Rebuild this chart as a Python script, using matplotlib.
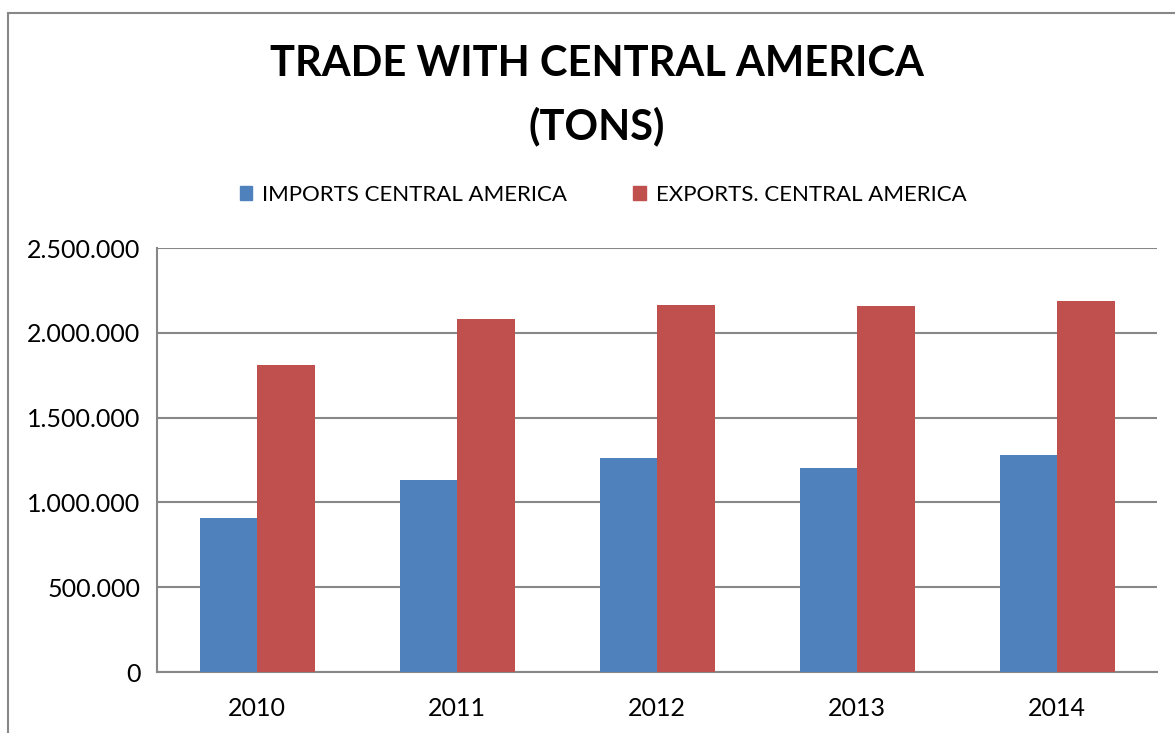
import matplotlib.pyplot as plt
import numpy as np
from matplotlib.patches import Patch, Rectangle
from matplotlib.ticker import FuncFormatter

years = ['2010', '2011', '2012', '2013', '2014']
imports_ca = [908000, 1132000, 1262000, 1203000, 1280000]
exports_ca = [1810000, 2080000, 2164000, 2158000, 2187000]
labels = ['IMPORTS CENTRAL AMERICA', 'EXPORTS. CENTRAL AMERICA']

blue = '#4F81BD'
red = '#C0504D'
grey = '#878787'

plt.rcParams['font.family'] = ['Lato', 'DejaVu Sans']

W, H = 1175, 733
fig = plt.figure(figsize=(W / 100, H / 100), dpi=100)

# chart frame (only the left and top edges are inside the image)
fig.patches.append(Rectangle((8 / W, -0.1), 1.2, 1 - 13 / H + 0.1,
                             transform=fig.transFigure, fill=False,
                             edgecolor=grey, linewidth=1.5))

ax = fig.add_axes([157 / W, 1 - 672 / H, 1000 / W, (672 - 248) / H])

x = np.arange(len(years))
w = 0.2875
ax.bar(x - w / 2, imports_ca, w, color=blue, zorder=3)
ax.bar(x + w / 2, exports_ca, w, color=red, zorder=3)

ax.set_xlim(-0.5, len(years) - 0.5)
ax.set_ylim(0, 2500000)
ax.set_yticks(np.arange(0, 2500001, 500000))
ax.yaxis.set_major_formatter(FuncFormatter(lambda v, p: f'{int(v):,}'.replace(',', '.')))
ax.set_xticks(x)
ax.set_xticklabels(years)
ax.tick_params(axis='both', length=0, labelsize=18)
ax.tick_params(axis='y', pad=12)
ax.tick_params(axis='x', pad=18)

ax.grid(axis='y', color=grey, linewidth=1.5, zorder=0)
for s in ['top', 'right']:
    ax.spines[s].set_visible(False)
for s in ['left', 'bottom']:
    ax.spines[s].set_color(grey)
    ax.spines[s].set_linewidth(1.5)

fig.text(597 / W, 1 - 64 / H, 'TRADE WITH CENTRAL AMERICA', ha='center', va='center',
         fontsize=30, fontweight='bold')
fig.text(597 / W, 1 - 126 / H, '(TONS)', ha='center', va='center',
         fontsize=30, fontweight='bold')

handles = [Patch(color=blue), Patch(color=red)]
fig.legend(handles, labels, loc='center', bbox_to_anchor=(603 / W, 1 - 195 / H),
           ncol=2, frameon=False, fontsize=16, handlelength=0.55, handleheight=0.55,
           handletextpad=0.45, columnspacing=3.0)

fig.savefig('out.png', dpi=100)
